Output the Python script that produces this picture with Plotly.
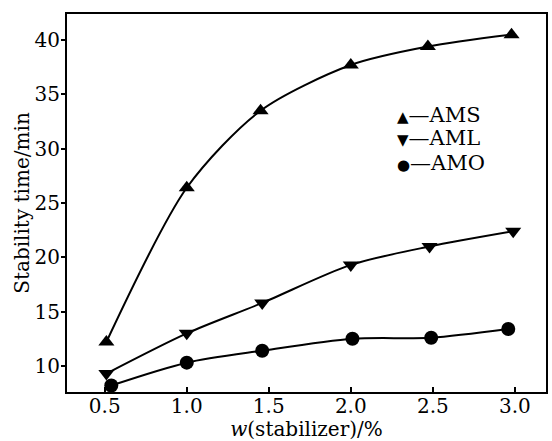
import plotly.graph_objects as go

# Data
x_ams = [0.51, 1.0, 1.45, 2.0, 2.47, 2.98]
y_ams = [12.2, 26.4, 33.5, 37.7, 39.4, 40.5]

x_aml = [0.51, 1.0, 1.46, 2.0, 2.48, 2.99]
y_aml = [9.3, 13.0, 15.8, 19.3, 21.0, 22.4]

x_amo = [0.54, 1.0, 1.46, 2.01, 2.49, 2.96]
y_amo = [8.2, 10.3, 11.4, 12.5, 12.6, 13.4]

series = [
    ("AMS", x_ams, y_ams, "triangle-up", "\u25b2"),
    ("AML", x_aml, y_aml, "triangle-down", "\u25bc"),
    ("AMO", x_amo, y_amo, "circle", "\u25cf"),
]

x_ticks = [0.5, 1.0, 1.5, 2.0, 2.5, 3.0]
x_ticklabels = ["0.5", "1.0", "1.5", "2.0", "2.5", "3.0"]
y_ticks = [10, 15, 20, 25, 30, 35, 40]

FONT = "DejaVu Serif, serif"

fig = go.Figure()
for name, xs, ys, sym, glyph in series:
    fig.add_trace(go.Scatter(
        x=xs, y=ys, mode="lines+markers", name=name, showlegend=False,
        line=dict(color="black", width=2, shape="spline", smoothing=0.8),
        marker=dict(symbol=sym, size=14, color="black"),
    ))

# in-plot legend as text labels
legend_y = [0.733, 0.672, 0.606]
for (name, _, _, _, glyph), ly in zip(series, legend_y):
    fig.add_annotation(
        xref="paper", yref="paper", x=0.684, y=ly, xanchor="left", yanchor="middle",
        showarrow=False,
        text="<span style='font-size:15px'>" + glyph + "</span>\u2014" + name,
        font=dict(family=FONT, size=21, color="black"),
    )

fig.update_layout(
    width=552, height=441,
    margin=dict(l=67, r=4, t=14, b=49),
    paper_bgcolor="white", plot_bgcolor="white",
    font=dict(family=FONT, color="black", size=20),
    showlegend=False,
    xaxis=dict(
        range=[0.27, 3.19], tickvals=x_ticks, ticktext=x_ticklabels,
        ticks="inside", ticklen=5, tickwidth=1.5, tickcolor="black",
        ticklabelstandoff=-5,
        showline=True, linecolor="black", linewidth=2, mirror=True,
        showgrid=False, zeroline=False,
        tickfont=dict(family=FONT, size=20),
        title=dict(text="<i>w</i>(stabilizer)/%", font=dict(family=FONT, size=20), standoff=0),
    ),
    yaxis=dict(
        range=[7.6, 42.4], tickvals=y_ticks,
        ticks="outside", ticklen=4, tickwidth=1.5, tickcolor="black",
        ticklabelstandoff=-3,
        showline=True, linecolor="black", linewidth=2, mirror=True,
        showgrid=False, zeroline=False,
        tickfont=dict(family=FONT, size=20),
        title=dict(text="Stability time/min", font=dict(family=FONT, size=20), standoff=0),
    ),
)

fig.write_html("out.html", config={"displayModeBar": False},
               post_script="document.body.style.margin='0';")
